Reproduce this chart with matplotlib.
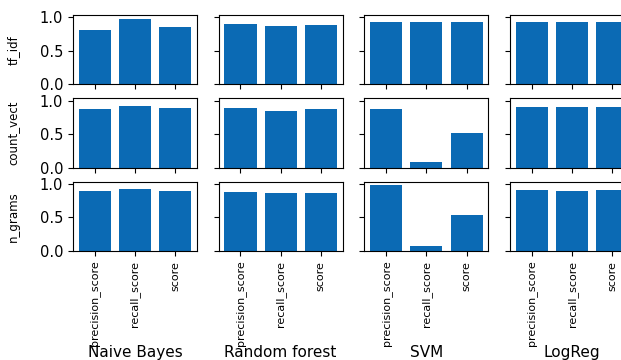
import numpy as np
import matplotlib
matplotlib.use("Agg")
import matplotlib.pyplot as plt

models = ["Naive Bayes", "Random forest", "SVM", "LogReg"]
features = ["tf_idf", "count_vect", "n_grams"]
metrics = ["precision_score", "recall_score", "score"]

# one list per feature set, one [precision, recall, score] per model
tf_idf = [[0.81, 0.97, 0.855], [0.90, 0.87, 0.885], [0.93, 0.93, 0.93], [0.93, 0.93, 0.93]]
count_vect = [[0.87, 0.92, 0.89], [0.89, 0.85, 0.87], [0.88, 0.085, 0.52], [0.90, 0.90, 0.90]]
n_grams = [[0.90, 0.93, 0.90], [0.88, 0.87, 0.87], [0.985, 0.07, 0.53], [0.91, 0.90, 0.91]]

results = {"tf_idf": tf_idf, "count_vect": count_vect, "n_grams": n_grams}

bar_color = "#0b6ab4"

fig, axes = plt.subplots(3, 4, figsize=(6.21, 3.6), dpi=100, sharex=True, sharey=True)
fig.subplots_adjust(left=0.1176, right=1.021, top=0.958, bottom=0.303,
                    wspace=0.177, hspace=0.2)

for i, feat in enumerate(features):
    for j, model in enumerate(models):
        ax = axes[i, j]
        ax.bar(metrics, results[feat][j], color=bar_color)
        ax.set_ylim(0, 1.035)
        ax.set_yticks([0.0, 0.5, 1.0])
        ax.tick_params(axis="y", labelsize=10.5)
        ax.tick_params(axis="x", labelsize=8, labelrotation=90)
        if j == 0:
            ax.set_ylabel(feat, fontsize=8.5)
            ax.yaxis.set_label_coords(-0.43, 0.5)
        if i == 2:
            ax.set_xlabel(model, fontsize=11, labelpad=0)
            ax.xaxis.set_label_coords(0.5, -1.35)

plt.savefig("out.png", dpi=100)
